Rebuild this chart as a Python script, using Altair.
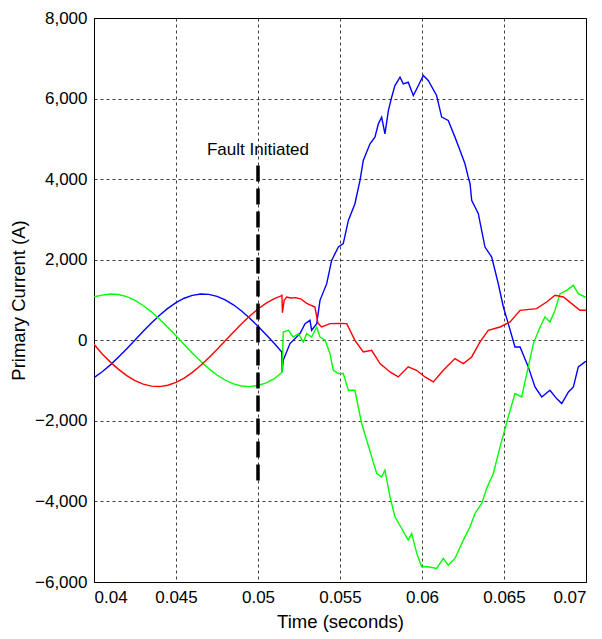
import altair as alt
import pandas as pd

# ---- data (time in ms, current in A) ----
t_pre = [40.0, 40.5, 41.0, 41.5, 42.0, 42.5, 43.0, 43.5, 44.0, 44.5, 45.0, 45.5,
         46.0, 46.5, 47.0, 47.5, 48.0, 48.5, 49.0, 49.5, 50.0, 50.5, 51.0, 51.45]
blue_pre = [-926, -781, -610, -416, -208, 8, 223, 431, 623, 793, 935, 1044,
            1116, 1148, 1140, 1091, 1004, 881, 727, 547, 348, 136, -80, -290]
green_pre = [1080, 1122, 1150, 1136, 1083, 991, 864, 706, 524, 323, 110, -106,
             -319, -520, -703, -861, -989, -1081, -1135, -1150, -1123, -1056, -953, -800]
red_pre = [-100, -342, -542, -722, -877, -1001, -1089, -1139, -1149, -1117, -1047, -938,
           -797, -628, -436, -229, -14, 202, 410, 604, 777, 922, 1035, 1110]

blue_t = [51.47, 51.54, 51.95, 52.56, 52.87, 53.17, 53.27, 53.58, 53.78, 54.19, 54.49,
          54.90, 55.20, 55.51, 55.91, 56.22, 56.42, 56.83, 57.13, 57.34, 57.54, 57.74,
          57.95, 58.15, 58.35, 58.66, 58.86, 59.16, 59.47, 59.78, 60.08, 60.38, 60.89,
          61.20, 61.60, 62.01, 62.32, 62.62, 62.82, 62.93, 63.03, 63.23, 63.43, 63.84,
          64.25, 64.65, 64.96, 65.26, 65.67, 65.98, 66.48, 66.89, 67.30, 67.80, 68.21,
          68.52, 68.93, 69.23, 69.53, 69.94, 70.0]
blue_v = [-786, -496, -82, 165, 413, 496, 248, 413, 992, 1406, 1984,
          2315, 2398, 2976, 3390, 3968, 4464, 4878, 5043, 5374, 5540, 5126,
          5700, 6034, 6324, 6530, 6365, 6406, 6076, 6324, 6572, 6448, 6076,
          5540, 5456, 5043, 4712, 4382, 4050, 3886, 3472, 3307, 3150, 2315,
          2067, 1406, 826, 413, -165, -165, -660, -1158, -1406, -1240, -1447,
          -1571, -1282, -1158, -660, -537, -520]

green_t = [51.47, 51.54, 51.85, 52.15, 52.46, 52.76, 52.97, 53.27, 53.58, 53.78, 54.09,
           54.39, 54.59, 54.90, 55.20, 55.51, 55.91, 56.32, 56.63, 56.93, 57.24, 57.54,
           57.74, 58.05, 58.35, 58.76, 59.16, 59.37, 59.68, 59.98, 60.38, 60.89, 61.30,
           61.60, 62.01, 62.52, 62.93, 63.23, 63.64, 63.94, 64.35, 64.76, 65.26, 65.67,
           66.08, 66.48, 66.79, 67.20, 67.50, 67.80, 68.11, 68.42, 68.82, 69.23, 69.53,
           69.94, 70.0]
green_v = [-786, 206, 248, 82, 165, -41, 165, 82, 330, 82, 0,
           -330, -744, -826, -826, -1240, -1240, -2067, -2480, -2894, -3307, -3390,
           -3224, -3886, -4382, -4672, -4960, -4794, -5290, -5622, -5622, -5663, -5415,
           -5580, -5415, -4960, -4630, -4299, -4050, -3678, -3307, -2646, -1902, -1322,
           -1406, -660, -82, 330, 578, 454, 744, 1158, 1240, 1364, 1158,
           1075, 1075]

red_t = [51.46, 51.49, 51.60, 51.75, 52.00, 52.30, 52.60, 52.97, 53.47, 53.66, 53.88,
         54.39, 55.00, 55.41, 55.91, 56.42, 56.93, 57.44, 58.05, 58.55, 59.16, 59.67,
         60.18, 60.69, 61.30, 62.01, 62.52, 63.03, 63.54, 64.04, 64.76, 65.37, 65.98,
         66.99, 67.60, 68.11, 68.62, 69.13, 69.63, 70.0]
red_v = [1133, 687, 1000, 1075, 1050, 1060, 1030, 917, 826, 420, 330,
         413, 420, 413, 0, -290, -248, -578, -786, -910, -660, -744,
         -910, -1034, -744, -455, -578, -413, -41, 248, 330, 454, 744,
         786, 950, 1116, 1075, 910, 744, 744]

phases = ["A", "B", "C"]
colors = ["#0000ff", "#00ff00", "#ff0000"]

fault_time = [0.05]
fault_top = [4340]
fault_bottom = [-3650]
fault_label = ["Fault Initiated"]
fault_label_y = [4720]

x_ticks = [0.04, 0.045, 0.05, 0.055, 0.06, 0.065, 0.07]
y_ticks = [-6000, -4000, -2000, 0, 2000, 4000, 6000, 8000]

rows = []
for name, tt, vv in [("A", t_pre + blue_t, blue_pre + blue_v),
                     ("B", t_pre + green_t, green_pre + green_v),
                     ("C", t_pre + red_t, red_pre + red_v)]:
    for i, (a, b) in enumerate(zip(tt, vv)):
        rows.append({"phase": name, "t": a / 1000.0, "I": b, "i": i})
df = pd.DataFrame(rows)

fault_df = pd.DataFrame({"t": fault_time, "top": fault_top, "bottom": fault_bottom,
                         "label": fault_label, "ly": fault_label_y})

font = "Liberation Sans"

x_scale = alt.Scale(domain=[0.04, 0.07], nice=False, zero=False)
y_scale = alt.Scale(domain=[-6000, 8000], nice=False)

lines = alt.Chart(df).mark_line(strokeWidth=1.4, clip=True).encode(
    x=alt.X("t:Q", scale=x_scale,
            axis=alt.Axis(title="Time (seconds)", values=x_ticks, format=".3~f", grid=True)),
    y=alt.Y("I:Q", scale=y_scale,
            axis=alt.Axis(title="Primary Current (A)", values=y_ticks, format=",d", grid=True)),
    color=alt.Color("phase:N", scale=alt.Scale(domain=phases, range=colors), legend=None),
    order="i:Q",
)

rule = alt.Chart(fault_df).mark_rule(color="black", strokeWidth=3.5, strokeDash=[16, 7]).encode(
    x=alt.X("t:Q", scale=x_scale),
    y=alt.Y("top:Q", scale=y_scale),
    y2="bottom:Q",
)

label = alt.Chart(fault_df).mark_text(font=font, fontSize=17, color="black", baseline="middle",
                                      align="center").encode(
    x=alt.X("t:Q", scale=x_scale),
    y=alt.Y("ly:Q", scale=y_scale),
    text="label:N",
)

chart = alt.layer(lines, rule, label).properties(
    width=492, height=564,
    autosize=alt.AutoSizeParams(type="none"),
    padding={"left": 94, "top": 18, "right": 16, "bottom": 57},
).configure_view(
    stroke="black", strokeWidth=1
).configure_axis(
    labelFont=font, titleFont=font, labelFontSize=17, titleFontSize=18.5,
    labelColor="black", titleColor="black", titleFontWeight="normal",
    domainColor="black", ticks=False, labelPadding=7,
    gridColor="black", gridDash=[3, 3], gridOpacity=0.75, gridWidth=1,
).configure_axisX(
    titlePadding=7
).configure_axisY(
    titlePadding=6
)

chart.save("out.html", embed_options={"renderer": "svg", "actions": False})
